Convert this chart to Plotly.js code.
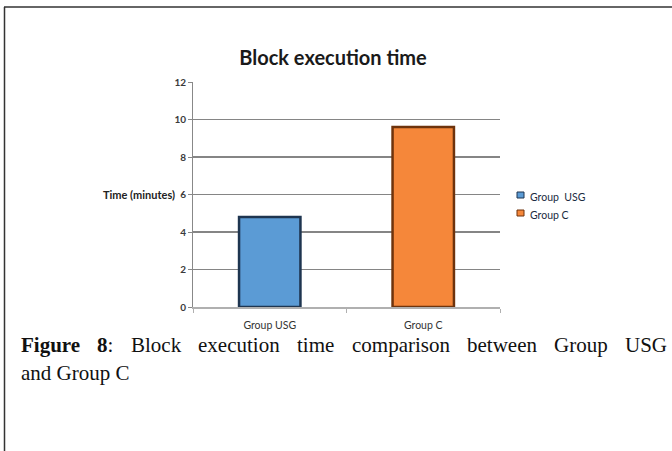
<!DOCTYPE html>
<html>
<head>
<meta charset="utf-8">
<script src="https://cdn.plot.ly/plotly-3.0.1.min.js"></script>
<style>html,body{margin:0;padding:0;background:#fff;}#chart{width:672px;height:451px;}</style>
</head>
<body>
<div id="chart"></div>
<script>
// ---- data ----
const categories = ['Group USG', 'Group C'];
const seriesNames = ['Group  USG', 'Group C'];
const seriesColors = ['#5B9BD5', '#F5873A'];
const seriesEdges = ['#1E3550', '#6E330C'];
const usgValues = [4.8, null];
const cValues = [null, 9.6];
const yTicks = [0, 2, 4, 6, 8, 10, 12];
const chartTitle = 'Block execution time';
const yTitle = 'Time (minutes)';
const captionLine1 = ['<b>Figure</b>', '<b>8</b>:', 'Block', 'execution', 'time', 'comparison', 'between', 'Group', 'USG'];
const captionLine2 = 'and Group C';

// ---- layout geometry (pixels) ----
const W = 672, H = 451;
const L = 193, R = 500, T = 82, B = 307;
const px = x => (x - L) / (R - L);
const py = y => (B - y) / (B - T);

const sans = 'Lato, "Open Sans", sans-serif';
const serif = '"Liberation Serif", "DejaVu Serif", serif';
const capSize = 21;

// justify caption line 1 using measured word widths
const cv = document.createElement('canvas').getContext('2d');
function wordWidth(w) {
  const parts = w.split(/(<b>.*?<\/b>)/).filter(s => s.length);
  let tot = 0;
  parts.forEach(p => {
    const bold = p.startsWith('<b>');
    const t = p.replace(/<\/?b>/g, '');
    cv.font = (bold ? 'bold ' : '') + capSize + 'px "Liberation Serif"';
    tot += cv.measureText(t).width;
  });
  return tot;
}
const capLeft = 19, capRight = 665;
const widths = captionLine1.map(wordWidth);
const totalW = widths.reduce((a, b) => a + b, 0);
const gap = (capRight - capLeft - totalW) / (captionLine1.length - 1);

const annotations = [];
const shapes = [];
let cx = capLeft;
captionLine1.forEach((w, i) => {
  annotations.push({
    text: w, xref: 'paper', yref: 'paper', x: px(cx), y: py(345),
    xanchor: 'left', yanchor: 'middle', showarrow: false,
    font: {family: serif, size: capSize, color: '#111'}
  });
  cx += widths[i] + gap;
});
annotations.push({
  text: captionLine2, xref: 'paper', yref: 'paper', x: px(capLeft), y: py(373),
  xanchor: 'left', yanchor: 'middle', showarrow: false,
  font: {family: serif, size: capSize, color: '#111'}
});
annotations.push({
  text: '<b>' + yTitle + '</b>', xref: 'paper', yref: 'y', x: 0, y: 6,
  xanchor: 'right', yanchor: 'middle', xshift: -16, showarrow: false,
  font: {family: sans, size: 11, color: '#222'}
});

// custom legend (small square swatches like the original)
seriesNames.forEach((n, i) => {
  const yc = 197 + i * 18;
  shapes.push({type: 'rect', xref: 'paper', yref: 'paper',
    x0: px(517), x1: px(524), y0: py(yc - 5), y1: py(yc + 1),
    fillcolor: seriesColors[i], line: {color: seriesEdges[i], width: 1}});
  annotations.push({text: n, xref: 'paper', yref: 'paper', x: px(528), y: py(yc),
    xanchor: 'left', yanchor: 'middle', showarrow: false,
    font: {family: sans, size: 10.5, color: '#1a2a40'}});
});

// border lines of the figure box
shapes.push({type: 'line', xref: 'paper', yref: 'paper', x0: px(4), x1: px(672), y0: py(7), y1: py(7),
  line: {color: '#333', width: 1.5}});
shapes.push({type: 'line', xref: 'paper', yref: 'paper', x0: px(4.5), x1: px(4.5), y0: py(7), y1: py(451),
  line: {color: '#333', width: 1.5}});

const traces = [
  {type: 'bar', name: seriesNames[0], x: categories, y: usgValues, width: 0.4,
   marker: {color: seriesColors[0], line: {color: seriesEdges[0], width: 2.5}}},
  {type: 'bar', name: seriesNames[1], x: categories, y: cValues, width: 0.4,
   marker: {color: seriesColors[1], line: {color: seriesEdges[1], width: 2.5}}}
];

const layout = {
  width: W, height: H,
  margin: {l: L, r: W - R, t: T, b: H - B, pad: 0},
  paper_bgcolor: '#fff', plot_bgcolor: '#fff',
  barmode: 'overlay',
  showlegend: false,
  title: {text: '<b>' + chartTitle + '</b>', x: 333 / W, xref: 'container', xanchor: 'center',
          y: 1 - 58 / H, yref: 'container', yanchor: 'middle',
          font: {family: sans, size: 20, color: '#1a1a1a'}},
  xaxis: {type: 'category', showline: true, linecolor: '#b0b0b0', linewidth: 1.5,
          ticks: 'outside', tickson: 'boundaries', ticklen: 4, tickcolor: '#b0b0b0',
          ticklabelstandoff: 8,
          showgrid: false, zeroline: false,
          tickfont: {family: sans, size: 10.5, color: '#333'}},
  yaxis: {range: [0, 12], tickvals: yTicks, ticktext: yTicks.map(v => '<b>' + v + '</b>'),
          showline: true, linecolor: '#888', linewidth: 1,
          ticks: 'outside', ticklen: 4, tickcolor: '#888',
          showgrid: true, gridcolor: '#858585', gridwidth: 1.3, zeroline: false,
          tickfont: {family: sans, size: 10, color: '#3a3a3a'}},
  annotations: annotations,
  shapes: shapes
};

Plotly.newPlot('chart', traces, layout, {displayModeBar: false, staticPlot: true});
</script>
</body>
</html>
